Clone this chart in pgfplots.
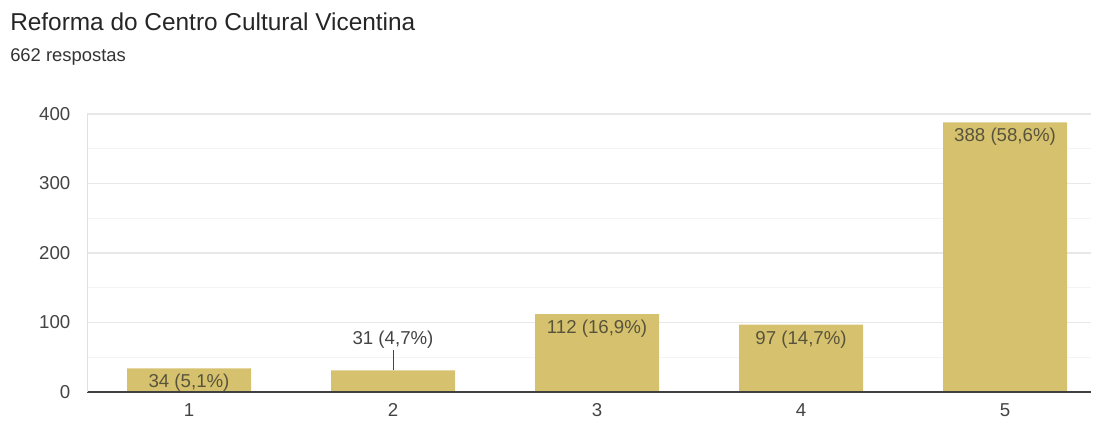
\documentclass[border=0pt]{standalone}
\usepackage{fontspec}
\setmainfont{Liberation Sans}
\usepackage{pgfplots}
\pgfplotsset{compat=1.18}
\definecolor{barc}{RGB}{214,194,110}
\definecolor{lblin}{RGB}{88,84,60}
\definecolor{tickc}{RGB}{68,68,68}
\definecolor{gridmaj}{RGB}{232,232,232}
\definecolor{gridmin}{RGB}{244,244,244}
\begin{document}
\begin{tikzpicture}
\path[use as bounding box] (0,0) rectangle (820.5pt,319.5pt);
\node[anchor=base west, font=\fontsize{18.3}{21}\selectfont, text=black!85, inner sep=0pt] at (7.5pt,297pt) {Reforma do Centro Cultural Vicentina};
\node[anchor=base west, font=\fontsize{13.8}{16}\selectfont, text=black!80, inner sep=0pt] at (7.5pt,273pt) {662 respostas};
\begin{axis}[
  at={(65.25pt,25.5pt)}, anchor=south west,
  scale only axis, width=752.8pt, height=208.5pt,
  xmin=0.5, xmax=5.42, ymin=0, ymax=400,
  axis x line=bottom, axis y line=left,
  axis line style={draw=none, -},
  ybar, bar width=93pt,
  xtick={1,2,3,4,5}, ytick={0,100,200,300,400},
  minor ytick={50,150,250,350},
  major tick length=0pt, minor tick length=0pt,
  ymajorgrids, yminorgrids,
  major grid style={gridmaj, line width=0.8pt},
  minor grid style={gridmin, line width=0.6pt},
  tick label style={font=\fontsize{14}{16}\selectfont, text=tickc},
  xticklabel style={yshift=-5pt},
  yticklabel style={xshift=-9pt},
  /pgf/number format/assume math mode=true,
  clip=false,
]
\addplot[fill=barc, draw=none, bar shift=0pt] coordinates {(1,34) (2,31) (3,112) (4,97) (5,388)};
\draw[black!75, line width=1.2pt] (axis cs:0.5,0) -- (axis cs:5.42,0);
\draw[black!12, line width=0.6pt] (axis cs:0.5,0) -- (axis cs:0.5,400);
\node[font=\fontsize{14}{16}\selectfont, text=lblin] at (axis cs:1,13) {34 (5,1\%)};
\draw[tickc, line width=0.6pt] (axis cs:2,31) -- (axis cs:2,61);
\node[font=\fontsize{14}{16}\selectfont, text=tickc, anchor=south, inner sep=1pt] at (axis cs:2,61) {31 (4,7\%)};
\node[font=\fontsize{14}{16}\selectfont, text=lblin] at (axis cs:3,91) {112 (16,9\%)};
\node[font=\fontsize{14}{16}\selectfont, text=lblin] at (axis cs:4,76) {97 (14,7\%)};
\node[font=\fontsize{14}{16}\selectfont, text=lblin] at (axis cs:5,368) {388 (58,6\%)};
\end{axis}
\end{tikzpicture}
\end{document}
